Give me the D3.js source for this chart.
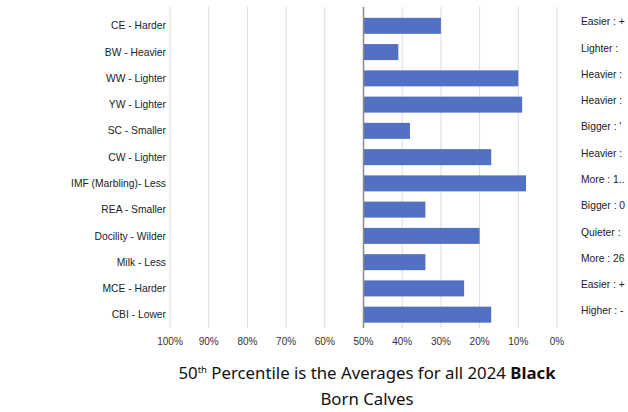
<!DOCTYPE html>
<html>
<head>
<meta charset="utf-8">
<script src="https://cdn.jsdelivr.net/npm/d3@7"></script>
<style>
  body { margin: 0; background: #fff; overflow: hidden; }
  text { font-family: "Liberation Sans", Arial, sans-serif; }
  .title { font-family: "Noto Sans", sans-serif; }
</style>
</head>
<body>
<script>
// traits, top to bottom
var traits = ["CE - Harder", "BW - Heavier", "WW - Lighter", "YW - Lighter", "SC - Smaller",
  "CW - Lighter", "IMF (Marbling)- Less", "REA - Smaller", "Docility - Wilder", "Milk - Less",
  "MCE - Harder", "CBI - Lower"];
// percentile each bar reaches (bars start at the 50th)
var percentiles = [30, 41, 10, 9, 38, 17, 8, 34, 20, 34, 24, 17];
// text on the right side, only the part visible before the picture edge
var rightLabels = ["Easier : +", "Lighter :", "Heavier :", "Heavier :", "Bigger : '",
  "Heavier :", "More : 1..", "Bigger : 0", "Quieter :", "More : 26",
  "Easier : +", "Higher : -"];
var ticks = [100, 90, 80, 70, 60, 50, 40, 30, 20, 10, 0];

var w = 628, h = 412;
var svg = d3.select("body").append("svg")
  .attr("width", w)
  .attr("height", h);

var x = d3.scaleLinear()
  .domain([100, 0])
  .range([170, 557]);

var y = d3.scaleBand()
  .domain(traits)
  .range([12.7, 327.8])
  .paddingInner(0.39)
  .paddingOuter(0.195);

// vertical grid
svg.selectAll(".grid")
  .data(ticks.filter(function(d){ return d != 50; }))
  .enter().append("line")
  .attr("x1", function(d){ return x(d); })
  .attr("x2", function(d){ return x(d); })
  .attr("y1", 7)
  .attr("y2", 328)
  .attr("stroke", "#dcdcdc")
  .attr("stroke-width", 1);

// tick labels
svg.selectAll(".tick-label")
  .data(ticks)
  .enter().append("text")
  .attr("x", function(d){ return x(d); })
  .attr("y", 345)
  .attr("text-anchor", "middle")
  .attr("font-size", "10px")
  .attr("fill", "#333")
  .text(function(d){ return d + "%"; });

// bars from the 50th percentile
svg.selectAll(".bar")
  .data(percentiles)
  .enter().append("rect")
  .attr("x", x(50))
  .attr("y", function(d, i){ return y(traits[i]); })
  .attr("width", function(d){ return x(d) - x(50); })
  .attr("height", y.bandwidth())
  .attr("fill", "#5371c3");

// 50% axis line
svg.append("line")
  .attr("x1", x(50)).attr("x2", x(50))
  .attr("y1", 7).attr("y2", 328)
  .attr("stroke", "#8a8a8a")
  .attr("stroke-width", 1.5);

// left labels
svg.selectAll(".left-label")
  .data(traits)
  .enter().append("text")
  .attr("x", 166)
  .attr("y", function(d){ return y(d) + y.bandwidth() / 2; })
  .attr("dy", "0.35em")
  .attr("text-anchor", "end")
  .attr("font-size", "10.3px")
  .attr("fill", "#222")
  .text(function(d){ return d; });

// right labels
svg.selectAll(".right-label")
  .data(rightLabels)
  .enter().append("text")
  .attr("x", 581)
  .attr("y", function(d, i){ return y(traits[i]) + y.bandwidth() / 2 - 4; })
  .attr("dy", "0.35em")
  .attr("font-size", "10.3px")
  .attr("fill", "#222")
  .text(function(d){ return d; });

// caption
var t1 = svg.append("text")
  .attr("class", "title")
  .attr("x", 367)
  .attr("y", 379)
  .attr("text-anchor", "middle")
  .attr("font-size", "16.8px")
  .attr("fill", "#111");
t1.append("tspan").text("50");
t1.append("tspan").attr("font-size", "9.5px").attr("dy", "-6").text("th");
t1.append("tspan").attr("dy", "6").text(" Percentile is the Averages for all 2024 ");
t1.append("tspan").attr("font-weight", "bold").text("Black");

svg.append("text")
  .attr("class", "title")
  .attr("x", 367)
  .attr("y", 405)
  .attr("text-anchor", "middle")
  .attr("font-size", "16.8px")
  .attr("fill", "#111")
  .text("Born Calves");
</script>
</body>
</html>
